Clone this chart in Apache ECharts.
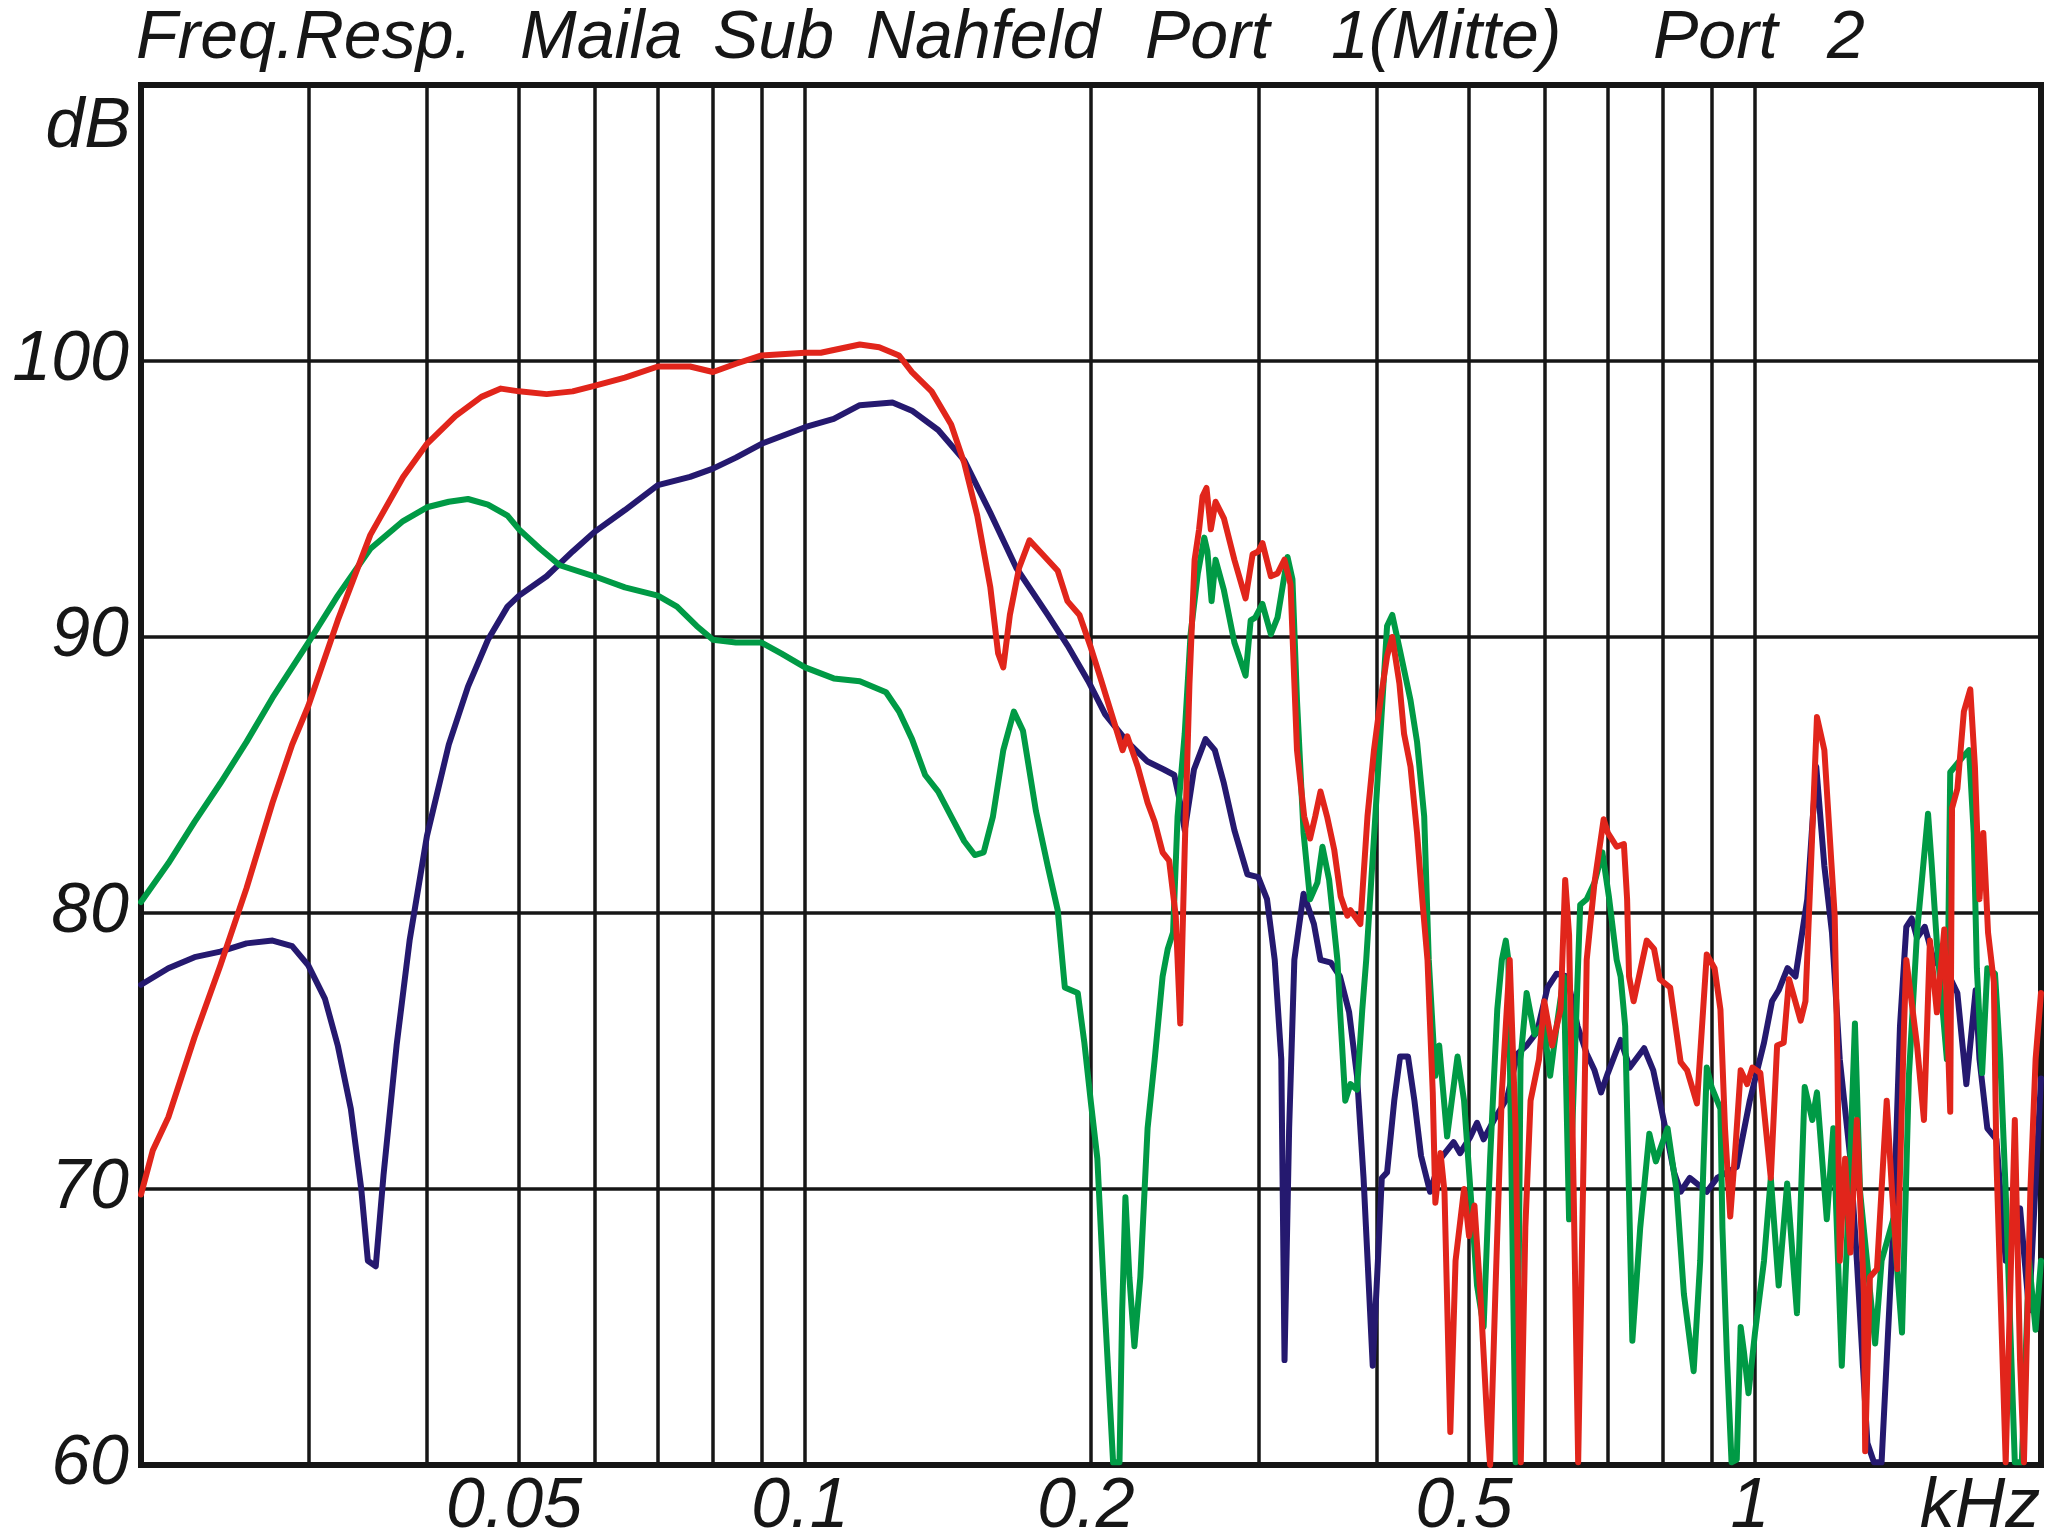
<!DOCTYPE html>
<html>
<head>
<meta charset="utf-8">
<script src="https://cdn.jsdelivr.net/npm/echarts@6/dist/echarts.min.js"></script>
<style>html,body{margin:0;padding:0;background:#fff}#c{width:2048px;height:1535px}</style>
</head>
<body>
<div id="c"></div>
<script>
// ---------- data (frequency in kHz, level in dB) ----------
const navyFreq = [0.02,0.02137,0.02277,0.02424,0.02583,0.02751,0.02885,0.03,0.03123,0.03222,
0.03326,0.03411,0.03466,0.03533,0.036,0.03716,0.03835,0.04,0.04217,0.04418,
0.04637,0.04862,0.05,0.05346,0.05694,0.06,0.06463,0.07,0.07568,0.08,
0.08457,0.09,0.1,0.1072,0.1142,0.1236,0.1296,0.1381,0.1471,0.1567,
0.1669,0.1801,0.1889,0.1987,0.207,0.2184,0.2291,0.2386,0.2447,0.2479,
0.251,0.2567,0.264,0.27,0.276,0.2831,0.2922,0.3,0.3064,0.3122,
0.3172,0.3197,0.3233,0.3274,0.3348,0.3433,0.3488,0.3577,0.3657,0.3739,
0.3811,0.3872,0.3959,0.4009,0.4047,0.4099,0.4171,0.423,0.4312,0.438,
0.4451,0.4549,0.4666,0.4816,0.4893,0.5018,0.5098,0.518,0.5312,0.5483,
0.5624,0.5749,0.5897,0.6048,0.6183,0.6341,0.6504,0.665,0.6777,0.6885,
0.7,0.722,0.7381,0.7643,0.7814,0.8014,0.8219,0.835,0.8537,0.8756,
0.8896,0.9124,0.9567,0.9874,1.022,1.042,1.059,1.082,1.103,1.135,
1.160,1.183,1.205,1.228,1.260,1.280,1.313,1.334,1.359,1.376,
1.398,1.421,1.443,1.462,1.481,1.509,1.542,1.602,1.633,1.669,
1.707,1.723,1.756,1.795,1.836,1.871,1.901,1.943,1.980,2.0];
const navyDb = [77.4,78.0,78.4,78.6,78.9,79.0,78.8,78.1,76.9,75.2,
72.9,70.0,67.4,67.2,70.5,75.2,79.0,82.8,86.1,88.2,
89.9,91.1,91.5,92.2,93.1,93.8,94.6,95.5,95.8,96.1,
96.5,97.0,97.6,97.9,98.4,98.5,98.2,97.5,96.4,94.5,
92.5,90.8,89.7,88.4,87.2,86.2,85.5,85.2,85.0,84.1,
83.0,85.2,86.3,85.9,84.7,83.0,81.4,81.3,80.5,78.3,
74.7,63.8,72.2,78.3,80.7,79.6,78.3,78.2,77.7,76.4,
74.1,70.4,63.6,67.4,70.4,70.6,73.2,74.8,74.8,73.2,
71.2,69.9,71.1,71.7,71.3,71.9,72.4,71.8,72.5,73.3,
74.9,75.2,75.7,77.3,77.8,77.7,75.9,74.9,74.3,73.5,
74.2,75.4,74.4,75.1,74.3,72.5,70.6,69.9,70.4,70.1,
69.9,70.4,70.8,73.2,75.3,76.8,77.2,78.0,77.7,80.5,
85.3,81.7,79.3,74.7,71.1,67.4,60.8,60.1,60.1,63.8,
68.6,75.9,79.5,79.8,79.1,79.5,78.3,77.7,77.1,73.8,
77.2,74.7,72.2,71.8,67.4,68.9,69.3,65.6,71.1,74.0];

const greenFreq = [0.02,0.02137,0.02277,0.02424,0.02583,0.02751,0.03,0.03222,0.03487,0.03775,
0.04,0.04217,0.04418,0.04637,0.04862,0.05,0.05261,0.05518,0.06,0.06463,
0.07,0.07332,0.0769,0.08,0.08457,0.09,0.09447,0.1,0.1072,0.1142,
0.1217,0.1256,0.1296,0.1338,0.1381,0.1425,0.1471,0.1509,0.1542,0.1577,
0.1617,0.1659,0.1696,0.175,0.1801,0.1845,0.1877,0.1937,0.1968,0.2,
0.2031,0.2064,0.211,0.2143,0.2157,0.2174,0.2195,0.2222,0.2254,0.2294,
0.2334,0.2379,0.2409,0.244,0.2467,0.251,0.2546,0.2591,0.2632,0.2652,
0.2679,0.2705,0.276,0.2831,0.2909,0.2945,0.2978,0.303,0.3093,0.3143,
0.322,0.3259,0.3295,0.3348,0.3401,0.3462,0.3505,0.3562,0.3634,0.3657,
0.3704,0.3751,0.3811,0.386,0.3897,0.3984,0.4099,0.4151,0.423,0.4339,
0.4408,0.4485,0.4535,0.4608,0.4651,0.4741,0.4862,0.494,0.5018,0.5098,
0.518,0.5262,0.5354,0.5414,0.5466,0.55,0.5553,0.5598,0.5641,0.5665,
0.5749,0.586,0.5991,0.6086,0.6183,0.6291,0.6372,0.6546,0.665,0.6777,
0.6907,0.7017,0.7151,0.722,0.73,0.7428,0.7571,0.774,0.7863,0.809,
0.8271,0.8416,0.8618,0.8756,0.8896,0.9,0.9196,0.924,0.9345,0.9447,
0.9567,0.9658,0.9735,0.9843,1.0,1.022,1.039,1.059,1.081,1.107,
1.128,1.149,1.162,1.190,1.209,1.234,1.256,1.274,1.290,1.317,
1.338,1.359,1.398,1.428,1.452,1.481,1.521,1.535,1.554,1.592,
1.605,1.659,1.680,1.699,1.712,1.734,1.756,1.789,1.812,1.836,
1.877,1.909,1.943,1.974,2.0];
const greenDb = [80.4,81.8,83.3,84.7,86.2,87.8,89.8,91.5,93.2,94.2,
94.7,94.9,95.0,94.8,94.4,93.9,93.2,92.6,92.2,91.8,
91.5,91.1,90.4,89.9,89.8,89.8,89.4,88.9,88.5,88.4,
88.0,87.3,86.3,85.0,84.4,83.5,82.6,82.1,82.2,83.5,
85.9,87.3,86.6,83.7,81.7,80.1,77.3,77.1,75.3,73.1,
71.1,66.2,60.1,60.1,65.6,69.7,66.8,64.3,66.8,72.2,
74.7,77.7,78.7,79.3,83.5,86.5,90.1,92.3,93.6,93.1,
91.3,92.8,91.7,89.8,88.6,90.6,90.7,91.2,90.1,90.7,
92.9,92.1,87.7,82.9,80.5,81.1,82.4,81.2,78.3,76.5,
73.2,73.8,73.6,76.5,78.3,83.5,90.4,90.8,89.5,87.7,
86.2,83.5,78.3,74.1,75.2,71.9,74.8,73.2,69.9,66.5,
65.0,71.1,76.5,78.3,79.0,78.3,68.6,60.1,67.4,74.7,
77.1,75.6,76.0,74.1,75.9,77.7,68.9,80.3,80.5,81.1,
82.2,80.6,78.3,77.7,75.9,64.5,68.6,72.0,71.0,72.2,
69.9,66.2,63.4,67.4,74.4,73.7,72.9,68.6,63.8,60.1,
60.2,65.0,64.1,62.6,64.8,67.4,70.4,66.5,70.2,65.5,
73.7,72.5,73.5,68.9,72.2,63.6,69.9,76.0,69.9,66.8,
64.4,67.4,68.9,64.8,74.1,79.3,83.6,81.7,78.9,74.7,
85.1,85.7,85.9,82.9,78.0,74.2,78.0,77.8,74.7,69.9,
60.1,60.1,67.4,64.9,67.4];

const redFreq = [0.02,0.02058,0.02137,0.02277,0.02424,0.02583,0.02751,0.02885,0.03,0.03222,
0.03487,0.03775,0.04,0.04285,0.04564,0.04785,0.05,0.05346,0.05694,0.06,
0.06463,0.07,0.07568,0.08,0.08457,0.09,0.1,0.1039,0.1072,0.1142,
0.1197,0.1256,0.1296,0.1359,0.1425,0.1471,0.1518,0.1567,0.1597,0.1617,
0.1643,0.168,0.1723,0.1778,0.1845,0.1889,0.1945,0.2,0.2047,0.2116,
0.2159,0.2184,0.224,0.2294,0.2334,0.2379,0.2417,0.2456,0.2483,0.251,
0.2539,0.2571,0.2599,0.2621,0.2646,0.2674,0.2705,0.276,0.2831,0.2909,
0.2959,0.3,0.3031,0.3093,0.3143,0.3196,0.3244,0.3295,0.3353,0.3401,
0.3444,0.3488,0.3544,0.3606,0.3663,0.3723,0.3751,0.3842,0.3909,0.3971,
0.4034,0.4099,0.4151,0.4224,0.4271,0.4339,0.4408,0.4464,0.4521,0.4579,
0.4608,0.4666,0.4711,0.4778,0.4839,0.494,0.5,0.5066,0.5139,0.5229,
0.5262,0.5329,0.5414,0.5518,0.5597,0.5668,0.5731,0.5804,0.5924,0.6,
0.6115,0.6242,0.6312,0.6372,0.6443,0.6514,0.6608,0.665,0.6777,0.6929,
0.7,0.7151,0.7277,0.7334,0.7369,0.7451,0.7691,0.7829,0.7938,0.8141,
0.835,0.8483,0.8687,0.8896,0.9066,0.9196,0.9298,0.9417,0.9537,0.9658,
0.9812,0.9937,1.013,1.039,1.055,1.072,1.086,1.117,1.130,1.162,
1.183,1.213,1.221,1.228,1.244,1.260,1.280,1.302,1.306,1.321,
1.344,1.376,1.394,1.412,1.435,1.443,1.481,1.506,1.528,1.554,
1.582,1.605,1.612,1.633,1.659,1.685,1.704,1.723,1.739,1.759,
1.784,1.795,1.836,1.856,1.877,1.901,1.919,1.949,1.974,2.0];
const redDb = [69.8,71.4,72.6,75.5,78.1,80.9,84.0,86.1,87.5,90.6,
93.7,95.8,97.0,98.0,98.7,99.0,98.9,98.8,98.9,99.1,
99.4,99.8,99.8,99.6,99.9,100.2,100.3,100.3,100.4,100.6,
100.5,100.2,99.6,98.9,97.7,96.3,94.4,91.8,89.4,88.9,
90.8,92.5,93.5,93.0,92.4,91.3,90.8,89.6,88.5,86.9,
85.9,86.4,85.3,84.0,83.3,82.2,81.9,79.9,76.0,82.3,
88.3,92.8,93.9,95.1,95.4,93.9,94.9,94.3,92.8,91.4,
93.0,93.1,93.4,92.2,92.3,92.8,91.9,85.9,83.5,82.7,
83.5,84.4,83.5,82.3,80.6,79.9,80.1,79.6,83.5,85.9,
87.7,89.3,90.0,88.3,86.5,85.3,82.9,80.5,78.3,73.5,
69.5,71.3,69.9,61.2,67.4,70.0,68.3,69.4,66.2,61.4,
60.0,66.2,73.5,78.3,72.2,60.1,68.6,73.2,74.7,76.8,
75.2,76.5,81.2,79.2,69.9,60.1,72.2,78.3,81.1,83.4,
82.9,82.4,82.5,80.5,77.7,76.8,79.0,78.7,77.6,77.3,
74.6,74.3,73.1,78.5,78.0,76.5,72.2,69.0,71.5,74.3,
73.8,74.4,74.2,70.4,75.2,75.3,77.6,76.1,76.8,87.1,
85.9,79.9,74.7,67.4,71.1,67.7,72.5,66.2,60.5,66.8,
67.1,73.2,69.9,67.1,75.9,78.3,75.2,72.5,79.0,76.4,
79.4,72.8,83.8,84.5,87.3,88.1,85.3,80.5,82.9,79.3,
77.5,71.1,60.1,66.2,72.5,63.8,60.1,69.9,74.7,77.1];

// axis / grid values
const xGridFreq = [0.03,0.04,0.05,0.06,0.07,0.08,0.09,0.1,0.2,0.3,0.4,0.5,0.6,0.7,0.8,0.9,1];
const xLabelValues = [0.05,0.1,0.2,0.5,1];
const xLabelTexts = ['0.05','0.1','0.2','0.5','1'];
const xUnitText = 'kHz';
const xUnitAt = 1.725;
const yLabelValues = [60,70,80,90,100];
const yUnitText = 'dB';
const titleWords = ['Freq.Resp.','Maila','Sub','Nahfeld','Port','1(Mitte)','Port','2'];

// ---------- chart ----------
const FONT = '"Liberation Sans", Arial, sans-serif';
const INK = '#161616';
const pairs = (f, d) => f.map((v, i) => [v, d[i]]);
const chart = echarts.init(document.getElementById('c'), null, {renderer: 'canvas'});

const lineSeries = (name, color, f, d) => ({
  name, type: 'line', data: pairs(f, d), showSymbol: false, symbol: 'none',
  smooth: false, clip: true, z: 3,
  lineStyle: {color, width: 6, join: 'round', cap: 'round'}
});

chart.setOption({
  backgroundColor: '#ffffff',
  animation: false,
  grid: {left: 141, right: 7, top: 85, bottom: 70, show: true,
         borderColor: INK, borderWidth: 6, backgroundColor: 'transparent'},
  xAxis: {type: 'log', logBase: 10, min: 0.02, max: 2,
          axisLine: {show: false}, axisTick: {show: false},
          axisLabel: {show: false}, splitLine: {show: false}},
  yAxis: {type: 'value', min: 60, max: 110, interval: 10,
          axisLine: {show: false}, axisTick: {show: false},
          axisLabel: {fontSize: 70, fontStyle: 'italic', fontFamily: FONT, color: INK, margin: 12,
                      formatter: v => yLabelValues.includes(v) ? String(v) : ''},
          splitLine: {lineStyle: {color: INK, width: 3.5}}},
  series: [
    {name: 'grid', type: 'line', data: [], z: 1,
     markLine: {silent: true, symbol: 'none', z: 1, animation: false,
                label: {show: false},
                lineStyle: {color: INK, width: 3.5, type: 'solid'},
                data: xGridFreq.map(v => ({xAxis: v}))}},
    lineSeries('Nahfeld', '#25196f', navyFreq, navyDb),
    lineSeries('Port 1 (Mitte)', '#009a45', greenFreq, greenDb),
    lineSeries('Port 2', '#e1251b', redFreq, redDb)
  ]
});

// labels placed through the axis scales
const toPx = (f, db) => chart.convertToPixel({xAxisIndex: 0, yAxisIndex: 0}, [f, db]);
const txt = (text, x, y, align, size) => ({
  type: 'text', x, y, silent: true,
  style: {text, fill: INK, font: 'italic ' + size + 'px ' + FONT,
          textAlign: align, textVerticalAlign: 'middle'}
});
const graphics = [];
xLabelValues.forEach((v, i) => {
  const p = toPx(v, 60);
  graphics.push(txt(xLabelTexts[i], p[0] - 5, p[1] + 43, 'center', 70));
});
const pu = toPx(xUnitAt, 60);
graphics.push(txt(xUnitText, pu[0], pu[1] + 43, 'center', 70));
const pd = toPx(0.02, 110);
graphics.push(txt(yUnitText, pd[0] - 10, pd[1] + 43, 'right', 70));
const titleX = [136, 520, 713, 866, 1145, 1331, 1653, 1827];
titleWords.forEach((w, i) => graphics.push(txt(w, titleX[i], 39, 'left', 68)));
chart.setOption({graphic: graphics});
</script>
</body>
</html>
